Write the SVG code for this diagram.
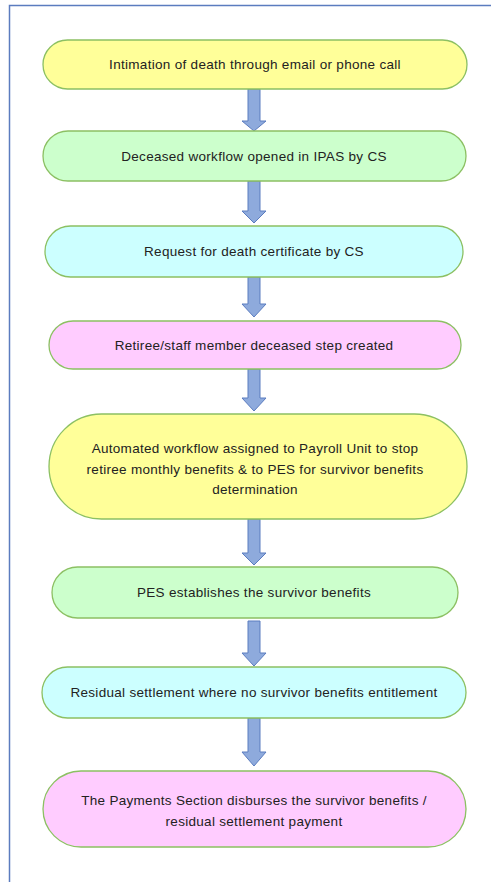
<svg xmlns="http://www.w3.org/2000/svg" width="491" height="882" viewBox="0 0 491 882">
<style>
.n{stroke:#8CC063;stroke-width:1.3}
.y{fill:#FFFF99}.g{fill:#CCFFCC}.c{fill:#CCFFFF}.p{fill:#FFCCFF}
.t{font-family:"Liberation Sans",Arial,sans-serif;font-size:13.5px;letter-spacing:0.3px;fill:#222;text-anchor:middle}
.a{fill:#8EAADC;stroke:#5B7CBF;stroke-width:1}
</style>
<rect x="0" y="0" width="491" height="882" fill="#fff"/>
<path d="M9.5,882 V5.5 H491" fill="none" stroke="#5B7CBF" stroke-width="1.5"/>
<g id="connectors">
<path class="a" d="M248,89 H260 V121 H266 L254,131 L242,121 H248 Z"/>
<path class="a" d="M248,181 H260 V211 H266 L254,223 L242,211 H248 Z"/>
<path class="a" d="M248,277 H260 V304 H266 L254,317 L242,304 H248 Z"/>
<path class="a" d="M248,369 H260 V398 H266 L254,411 L242,398 H248 Z"/>
<path class="a" d="M248,519 H260 V553 H266 L254,565 L242,553 H248 Z"/>
<path class="a" d="M248,621 H260 V653 H266 L254,666 L242,653 H248 Z"/>
<path class="a" d="M248,718 H260 V752 H266 L254,766 L242,752 H248 Z"/>
</g>
<g id="n1"><rect class="n y" x="43" y="40" width="424" height="49" rx="24.5"/><text class="t" x="255" y="69">Intimation of death through email or phone call</text></g>
<g id="n2"><rect class="n g" x="43" y="131" width="423" height="50" rx="25"/><text class="t" x="254" y="161">Deceased workflow opened in IPAS by CS</text></g>
<g id="n3"><rect class="n c" x="45" y="226" width="418" height="51" rx="25.5"/><text class="t" x="254" y="256">Request for death certificate by CS</text></g>
<g id="n4"><rect class="n p" x="49" y="321" width="412" height="48" rx="24"/><text class="t" x="254" y="350">Retiree/staff member deceased step created</text></g>
<g id="n5"><rect class="n y" x="49" y="414" width="418" height="105" rx="52.5"/><text class="t" x="255" y="453">Automated workflow assigned to Payroll Unit to stop</text><text class="t" x="255" y="474">retiree monthly benefits &amp; to PES for survivor benefits</text><text class="t" x="255" y="494">determination</text></g>
<g id="n6"><rect class="n g" x="52" y="567" width="406" height="51" rx="25.5"/><text class="t" x="254" y="597">PES establishes the survivor benefits</text></g>
<g id="n7"><rect class="n c" x="42" y="667" width="424" height="51" rx="25.5"/><text class="t" x="254" y="697">Residual settlement where no survivor benefits entitlement</text></g>
<g id="n8"><rect class="n p" x="43" y="771" width="423" height="76" rx="38"/><text class="t" x="254" y="805">The Payments Section disburses the survivor benefits /</text><text class="t" x="254" y="826">residual settlement payment</text></g>
</svg>
